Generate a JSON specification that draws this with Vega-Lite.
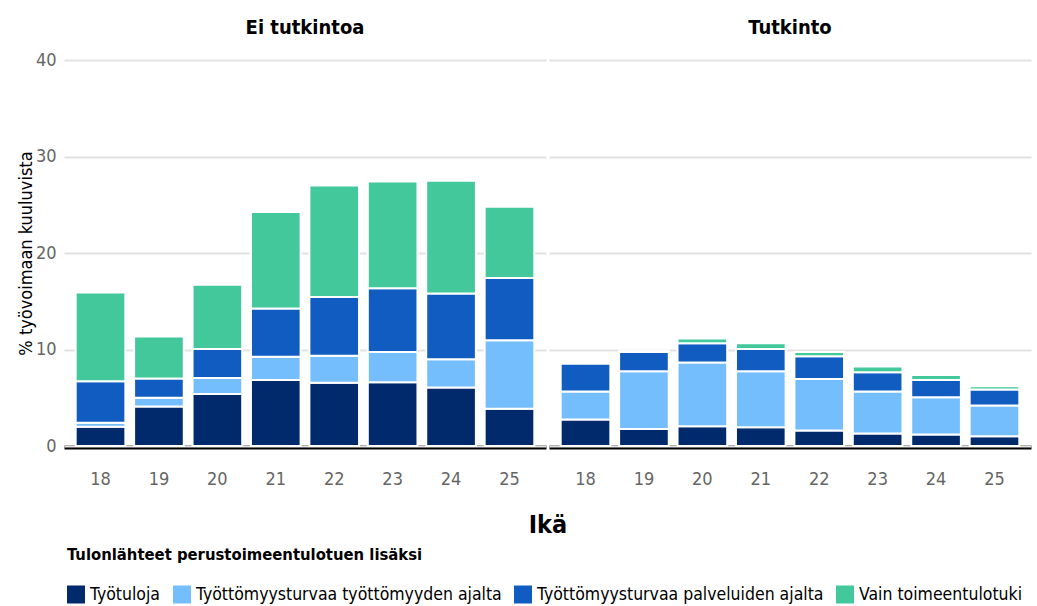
{
  "$schema": "https://vega.github.io/schema/vega-lite/v6.json",
  "padding": {"left": 17, "top": 18, "right": 2, "bottom": 3},
  "background": "white",
  "data": {"values": [
    {"koulutus": "Ei tutkintoa", "ika": "18", "lahde": "Työtuloja", "arvo": 2.0},
    {"koulutus": "Ei tutkintoa", "ika": "18", "lahde": "Työttömyysturvaa työttömyyden ajalta", "arvo": 0.4},
    {"koulutus": "Ei tutkintoa", "ika": "18", "lahde": "Työttömyysturvaa palveluiden ajalta", "arvo": 4.3},
    {"koulutus": "Ei tutkintoa", "ika": "18", "lahde": "Vain toimeentulotuki", "arvo": 9.2},
    {"koulutus": "Ei tutkintoa", "ika": "19", "lahde": "Työtuloja", "arvo": 4.1},
    {"koulutus": "Ei tutkintoa", "ika": "19", "lahde": "Työttömyysturvaa työttömyyden ajalta", "arvo": 0.9},
    {"koulutus": "Ei tutkintoa", "ika": "19", "lahde": "Työttömyysturvaa palveluiden ajalta", "arvo": 2.0},
    {"koulutus": "Ei tutkintoa", "ika": "19", "lahde": "Vain toimeentulotuki", "arvo": 4.35},
    {"koulutus": "Ei tutkintoa", "ika": "20", "lahde": "Työtuloja", "arvo": 5.4},
    {"koulutus": "Ei tutkintoa", "ika": "20", "lahde": "Työttömyysturvaa työttömyyden ajalta", "arvo": 1.65},
    {"koulutus": "Ei tutkintoa", "ika": "20", "lahde": "Työttömyysturvaa palveluiden ajalta", "arvo": 3.0},
    {"koulutus": "Ei tutkintoa", "ika": "20", "lahde": "Vain toimeentulotuki", "arvo": 6.65},
    {"koulutus": "Ei tutkintoa", "ika": "21", "lahde": "Työtuloja", "arvo": 6.85},
    {"koulutus": "Ei tutkintoa", "ika": "21", "lahde": "Työttömyysturvaa työttömyyden ajalta", "arvo": 2.4},
    {"koulutus": "Ei tutkintoa", "ika": "21", "lahde": "Työttömyysturvaa palveluiden ajalta", "arvo": 5.0},
    {"koulutus": "Ei tutkintoa", "ika": "21", "lahde": "Vain toimeentulotuki", "arvo": 10.0},
    {"koulutus": "Ei tutkintoa", "ika": "22", "lahde": "Työtuloja", "arvo": 6.55},
    {"koulutus": "Ei tutkintoa", "ika": "22", "lahde": "Työttömyysturvaa työttömyyden ajalta", "arvo": 2.8},
    {"koulutus": "Ei tutkintoa", "ika": "22", "lahde": "Työttömyysturvaa palveluiden ajalta", "arvo": 6.1},
    {"koulutus": "Ei tutkintoa", "ika": "22", "lahde": "Vain toimeentulotuki", "arvo": 11.55},
    {"koulutus": "Ei tutkintoa", "ika": "23", "lahde": "Työtuloja", "arvo": 6.6},
    {"koulutus": "Ei tutkintoa", "ika": "23", "lahde": "Työttömyysturvaa työttömyyden ajalta", "arvo": 3.15},
    {"koulutus": "Ei tutkintoa", "ika": "23", "lahde": "Työttömyysturvaa palveluiden ajalta", "arvo": 6.6},
    {"koulutus": "Ei tutkintoa", "ika": "23", "lahde": "Vain toimeentulotuki", "arvo": 11.05},
    {"koulutus": "Ei tutkintoa", "ika": "24", "lahde": "Työtuloja", "arvo": 6.05},
    {"koulutus": "Ei tutkintoa", "ika": "24", "lahde": "Työttömyysturvaa työttömyyden ajalta", "arvo": 2.95},
    {"koulutus": "Ei tutkintoa", "ika": "24", "lahde": "Työttömyysturvaa palveluiden ajalta", "arvo": 6.8},
    {"koulutus": "Ei tutkintoa", "ika": "24", "lahde": "Vain toimeentulotuki", "arvo": 11.7},
    {"koulutus": "Ei tutkintoa", "ika": "25", "lahde": "Työtuloja", "arvo": 3.85},
    {"koulutus": "Ei tutkintoa", "ika": "25", "lahde": "Työttömyysturvaa työttömyyden ajalta", "arvo": 7.1},
    {"koulutus": "Ei tutkintoa", "ika": "25", "lahde": "Työttömyysturvaa palveluiden ajalta", "arvo": 6.45},
    {"koulutus": "Ei tutkintoa", "ika": "25", "lahde": "Vain toimeentulotuki", "arvo": 7.4},
    {"koulutus": "Tutkinto", "ika": "18", "lahde": "Työtuloja", "arvo": 2.75},
    {"koulutus": "Tutkinto", "ika": "18", "lahde": "Työttömyysturvaa työttömyyden ajalta", "arvo": 2.9},
    {"koulutus": "Tutkinto", "ika": "18", "lahde": "Työttömyysturvaa palveluiden ajalta", "arvo": 2.9},
    {"koulutus": "Tutkinto", "ika": "18", "lahde": "Vain toimeentulotuki", "arvo": 0.0},
    {"koulutus": "Tutkinto", "ika": "19", "lahde": "Työtuloja", "arvo": 1.75},
    {"koulutus": "Tutkinto", "ika": "19", "lahde": "Työttömyysturvaa työttömyyden ajalta", "arvo": 6.0},
    {"koulutus": "Tutkinto", "ika": "19", "lahde": "Työttömyysturvaa palveluiden ajalta", "arvo": 2.0},
    {"koulutus": "Tutkinto", "ika": "19", "lahde": "Vain toimeentulotuki", "arvo": 0.15},
    {"koulutus": "Tutkinto", "ika": "20", "lahde": "Työtuloja", "arvo": 2.05},
    {"koulutus": "Tutkinto", "ika": "20", "lahde": "Työttömyysturvaa työttömyyden ajalta", "arvo": 6.6},
    {"koulutus": "Tutkinto", "ika": "20", "lahde": "Työttömyysturvaa palveluiden ajalta", "arvo": 2.0},
    {"koulutus": "Tutkinto", "ika": "20", "lahde": "Vain toimeentulotuki", "arvo": 0.5},
    {"koulutus": "Tutkinto", "ika": "21", "lahde": "Työtuloja", "arvo": 1.95},
    {"koulutus": "Tutkinto", "ika": "21", "lahde": "Työttömyysturvaa työttömyyden ajalta", "arvo": 5.8},
    {"koulutus": "Tutkinto", "ika": "21", "lahde": "Työttömyysturvaa palveluiden ajalta", "arvo": 2.3},
    {"koulutus": "Tutkinto", "ika": "21", "lahde": "Vain toimeentulotuki", "arvo": 0.6},
    {"koulutus": "Tutkinto", "ika": "22", "lahde": "Työtuloja", "arvo": 1.6},
    {"koulutus": "Tutkinto", "ika": "22", "lahde": "Työttömyysturvaa työttömyyden ajalta", "arvo": 5.35},
    {"koulutus": "Tutkinto", "ika": "22", "lahde": "Työttömyysturvaa palveluiden ajalta", "arvo": 2.35},
    {"koulutus": "Tutkinto", "ika": "22", "lahde": "Vain toimeentulotuki", "arvo": 0.45},
    {"koulutus": "Tutkinto", "ika": "23", "lahde": "Työtuloja", "arvo": 1.3},
    {"koulutus": "Tutkinto", "ika": "23", "lahde": "Työttömyysturvaa työttömyyden ajalta", "arvo": 4.35},
    {"koulutus": "Tutkinto", "ika": "23", "lahde": "Työttömyysturvaa palveluiden ajalta", "arvo": 2.0},
    {"koulutus": "Tutkinto", "ika": "23", "lahde": "Vain toimeentulotuki", "arvo": 0.6},
    {"koulutus": "Tutkinto", "ika": "24", "lahde": "Työtuloja", "arvo": 1.2},
    {"koulutus": "Tutkinto", "ika": "24", "lahde": "Työttömyysturvaa työttömyyden ajalta", "arvo": 3.85},
    {"koulutus": "Tutkinto", "ika": "24", "lahde": "Työttömyysturvaa palveluiden ajalta", "arvo": 1.8},
    {"koulutus": "Tutkinto", "ika": "24", "lahde": "Vain toimeentulotuki", "arvo": 0.5},
    {"koulutus": "Tutkinto", "ika": "25", "lahde": "Työtuloja", "arvo": 1.0},
    {"koulutus": "Tutkinto", "ika": "25", "lahde": "Työttömyysturvaa työttömyyden ajalta", "arvo": 3.2},
    {"koulutus": "Tutkinto", "ika": "25", "lahde": "Työttömyysturvaa palveluiden ajalta", "arvo": 1.65},
    {"koulutus": "Tutkinto", "ika": "25", "lahde": "Vain toimeentulotuki", "arvo": 0.35}
  ]},
  "transform": [
    {"calculate": "indexof(['Työtuloja', 'Työttömyysturvaa työttömyyden ajalta', 'Työttömyysturvaa palveluiden ajalta', 'Vain toimeentulotuki'], datum.lahde)", "as": "jarj"}
  ],
  "facet": {
    "column": {
      "field": "koulutus",
      "type": "nominal",
      "sort": ["Ei tutkintoa", "Tutkinto"],
      "title": "Ikä",
      "header": {
        "labelOrient": "top",
        "titleOrient": "bottom",
        "labelFontSize": 20,
        "labelFontWeight": "bold",
        "labelColor": "#000000",
        "labelPadding": 22,
        "titleFontSize": 25,
        "titleFontWeight": "bold",
        "titleColor": "#000000",
        "titlePadding": 15
      }
    }
  },
  "spacing": 3,
  "spec": {
    "width": 482,
    "height": 386,
    "mark": {"type": "bar", "stroke": "white", "strokeWidth": 2},
    "encoding": {
      "x": {
        "field": "ika",
        "type": "ordinal",
        "title": null,
        "scale": {"paddingInner": 0.15, "paddingOuter": 0.2},
        "axis": {
          "labelAngle": 0,
          "ticks": false,
          "domain": true,
          "domainColor": "#000000",
          "domainWidth": 4,
          "labelPadding": 23,
          "labelColor": "#666666",
          "labelFontSize": 18,
          "grid": false
        }
      },
      "y": {
        "field": "arvo",
        "type": "quantitative",
        "stack": "zero",
        "title": "% työvoimaan kuuluvista",
        "scale": {"domain": [0, 40], "nice": false},
        "axis": {
          "values": [0, 10, 20, 30, 40],
          "domain": false,
          "ticks": false,
          "gridColor": "#e2e2e2",
          "gridWidth": 2,
          "labelColor": "#666666",
          "labelFontSize": 18,
          "labelPadding": 8,
          "titleFontSize": 18,
          "titleFontWeight": "normal",
          "titleColor": "#000000",
          "titlePadding": 0
        }
      },
      "color": {
        "field": "lahde",
        "type": "nominal",
        "title": "Tulonlähteet perustoimeentulotuen lisäksi",
        "scale": {
          "domain": ["Työtuloja", "Työttömyysturvaa työttömyyden ajalta", "Työttömyysturvaa palveluiden ajalta", "Vain toimeentulotuki"],
          "range": ["#002A6C", "#74BEFE", "#115CC1", "#42C89A"]
        },
        "legend": {
          "orient": "bottom",
          "direction": "horizontal",
          "titleOrient": "top",
          "titleFontSize": 16.5,
          "titleFontWeight": "bold",
          "titleColor": "#000000",
          "titlePadding": 22,
          "titleLimit": 0,
          "labelLimit": 0,
          "labelFontSize": 17.5,
          "labelColor": "#000000",
          "symbolType": "square",
          "symbolSize": 324,
          "symbolStrokeWidth": 0,
          "columnPadding": 12,
          "labelOffset": 5,
          "padding": 3,
          "offset": 6
        }
      },
      "order": {"field": "jarj", "type": "quantitative", "sort": "ascending"}
    }
  },
  "config": {
    "font": "DejaVu Sans Condensed, sans-serif",
    "view": {"stroke": null}
  }
}
